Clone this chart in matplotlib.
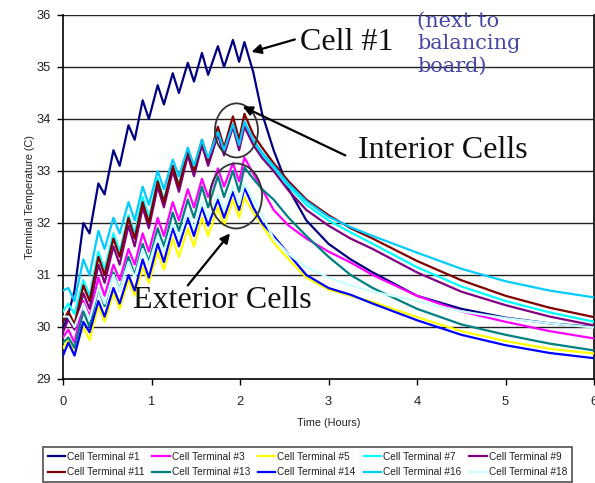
import matplotlib
matplotlib.use("Agg")
import matplotlib.pyplot as plt
from matplotlib.patches import Ellipse
from matplotlib import font_manager

# ---------------- data ----------------
time_h = [0.00, 0.06, 0.13, 0.23, 0.30, 0.40, 0.47, 0.57, 0.64, 0.74, 0.81, 0.90, 0.97,
          1.07, 1.14, 1.24, 1.31, 1.41, 1.48, 1.57, 1.64, 1.75, 1.82, 1.92, 1.99, 2.05,
          2.15, 2.25, 2.38, 2.55, 2.75, 3.00, 3.25, 3.50, 4.00, 4.50, 5.00, 5.50, 6.00]

cell_1 = [29.95, 30.25, 30.7, 32.0, 31.8, 32.76, 32.55, 33.4, 33.1, 33.88, 33.6, 34.36, 34.0,
          34.65, 34.28, 34.88, 34.5, 35.08, 34.72, 35.27, 34.85, 35.4, 35.0, 35.52, 35.1, 35.48,
          34.9, 34.1, 33.4, 32.65, 32.05, 31.6, 31.3, 31.05, 30.6, 30.35, 30.18, 30.07, 30.0]
cell_3 = [29.8, 29.95, 29.7, 30.5, 30.2, 30.95, 30.6, 31.2, 30.9, 31.5, 31.2, 31.8, 31.45,
          32.1, 31.75, 32.4, 32.05, 32.65, 32.3, 32.85, 32.5, 33.05, 32.7, 33.15, 32.8, 33.26,
          32.95, 32.65, 32.25, 31.95, 31.7, 31.45, 31.24, 31.0, 30.6, 30.3, 30.1, 29.92, 29.78]
cell_5 = [29.6, 29.75, 29.5, 30.0, 29.75, 30.4, 30.1, 30.65, 30.35, 30.9, 30.6, 31.15, 30.85,
          31.45, 31.1, 31.7, 31.35, 31.9, 31.55, 32.1, 31.75, 32.3, 31.95, 32.45, 32.1, 32.5,
          32.2, 31.95, 31.62, 31.3, 30.95, 30.72, 30.6, 30.48, 30.19, 29.92, 29.73, 29.58, 29.49]
cell_7 = [30.3, 30.45, 30.25, 30.9, 30.6, 31.45, 31.1, 31.8, 31.45, 32.15, 31.8, 32.5, 32.1,
          32.85, 32.45, 33.1, 32.75, 33.35, 32.95, 33.5, 33.15, 33.7, 33.35, 33.85, 33.45, 33.9,
          33.55, 33.3, 33.05, 32.7, 32.35, 32.05, 31.82, 31.6, 31.15, 30.78, 30.5, 30.28, 30.1]
cell_9 = [29.9, 30.15, 29.95, 30.65, 30.35, 31.2, 30.85, 31.55, 31.2, 31.95, 31.55, 32.3, 31.9,
          32.7, 32.3, 33.0, 32.6, 33.3, 32.9, 33.5, 33.1, 33.7, 33.3, 33.85, 33.4, 33.85,
          33.5, 33.25, 33.0, 32.62, 32.25, 31.95, 31.7, 31.5, 31.05, 30.68, 30.42, 30.2, 30.03]
cell_11 = [30.1, 30.3, 30.05, 30.8, 30.5, 31.35, 31.0, 31.7, 31.35, 32.1, 31.7, 32.4, 32.0,
           32.8, 32.4, 33.1, 32.7, 33.4, 33.0, 33.6, 33.2, 33.85, 33.45, 34.05, 33.6, 34.1,
           33.7, 33.45, 33.15, 32.8, 32.45, 32.15, 31.9, 31.7, 31.27, 30.9, 30.6, 30.37, 30.19]
cell_13 = [29.7, 29.8, 29.6, 30.3, 30.0, 30.75, 30.4, 31.05, 30.7, 31.35, 31.0, 31.6, 31.25,
           31.9, 31.55, 32.2, 31.85, 32.45, 32.1, 32.7, 32.3, 32.9, 32.5, 33.0, 32.6, 33.07,
           32.85, 32.65, 32.45, 32.1, 31.75, 31.35, 31.0, 30.75, 30.35, 30.05, 29.85, 29.68, 29.55]
cell_14 = [29.45, 29.7, 29.45, 30.1, 29.9, 30.5, 30.2, 30.75, 30.45, 31.0, 30.7, 31.3, 30.95,
           31.6, 31.25, 31.9, 31.55, 32.1, 31.75, 32.3, 31.95, 32.45, 32.1, 32.6, 32.25, 32.68,
           32.3, 32.0, 31.75, 31.4, 31.0, 30.75, 30.62, 30.45, 30.13, 29.85, 29.65, 29.5, 29.4]
cell_16 = [30.7, 30.75, 30.5, 31.3, 31.0, 31.85, 31.5, 32.1, 31.8, 32.4, 32.05, 32.7, 32.35,
           33.0, 32.65, 33.22, 32.9, 33.45, 33.1, 33.6, 33.25, 33.75, 33.4, 33.9, 33.5, 33.95,
           33.6, 33.35, 33.1, 32.75, 32.42, 32.12, 31.92, 31.75, 31.43, 31.12, 30.88, 30.7, 30.57]
cell_18 = [30.2, 30.2, 30.0, 30.45, 30.15, 30.75, 30.45, 31.0, 30.7, 31.25, 30.95, 31.5, 31.2,
           31.75, 31.45, 32.0, 31.7, 32.2, 31.9, 32.4, 32.1, 32.55, 32.25, 32.7, 32.35, 32.75,
           32.45, 32.15, 31.7, 31.4, 31.15, 30.95, 30.8, 30.68, 30.5, 30.3, 30.17, 30.07, 29.99]

series_labels = ["Cell Terminal #1", "Cell Terminal #3", "Cell Terminal #5", "Cell Terminal #7",
                 "Cell Terminal #9", "Cell Terminal #11", "Cell Terminal #13", "Cell Terminal #14",
                 "Cell Terminal #16", "Cell Terminal #18"]
series_values = [cell_1, cell_3, cell_5, cell_7, cell_9, cell_11, cell_13, cell_14, cell_16, cell_18]
series_colors = ["#000080", "#FF00FF", "#FFFF00", "#00FFFF", "#800080",
                 "#800000", "#008080", "#0000FF", "#00CCFF", "#CCFFFF"]

y_ticks = [29, 30, 31, 32, 33, 34, 35, 36]
x_ticks = [0, 1, 2, 3, 4, 5, 6]

# ---------------- fonts ----------------
avail = {f.name for f in font_manager.fontManager.ttflist}
sans = "Liberation Sans Narrow" if "Liberation Sans Narrow" in avail else "Liberation Sans"
narrow = sans == "Liberation Sans Narrow"
plt.rcParams["font.family"] = [sans, "DejaVu Sans"]
tick_fs = 10.5 if narrow else 9.3
leg_fs = 8.6 if narrow else 7.3
lab_fs = 9 if narrow else 7.8

# ---------------- figure ----------------
W, H = 595, 483
fig = plt.figure(figsize=(W / 100, H / 100), dpi=100)
ax = fig.add_axes([63 / W, 1 - 379 / H, (594 - 63) / W, (379 - 15) / H])

handles = []
for lab, vals, col in zip(series_labels, series_values, series_colors):
    ln, = ax.plot(time_h, vals, color=col, lw=1.6, label=lab, zorder=3)
    handles.append(ln)

ax.set_xlim(0, 6)
ax.set_ylim(29, 36)
ax.set_xticks(x_ticks)
ax.set_yticks(y_ticks)
ax.tick_params(axis="both", direction="out", length=4, width=1, colors="black",
               labelsize=tick_fs, labelcolor="#222222")
ax.tick_params(axis="x", pad=8)
ax.tick_params(axis="y", pad=5)
for yv in y_ticks[1:]:
    ax.axhline(yv, color="#222222", lw=1.0, zorder=1)
for s in ["left", "bottom", "right"]:
    ax.spines[s].set_color("black")
    ax.spines[s].set_linewidth(1.2)
ax.spines["top"].set_visible(False)

ax.set_ylabel("Terminal Temperature (C)", fontsize=lab_fs, color="#222222", va="center")
ax.yaxis.set_label_coords(-0.062, 0.5)
ax.set_xlabel("Time (Hours)", fontsize=lab_fs, color="#222222", va="center")
ax.xaxis.set_label_coords(0.5, -0.121)

# circles
ax.add_patch(Ellipse((1.96, 33.78), 0.486, 1.04, fill=False, ec="#333333", lw=1.3, zorder=4))
ax.add_patch(Ellipse((1.955, 32.52), 0.588, 1.25, fill=False, ec="#333333", lw=1.3, zorder=4))

# arrows
arr = dict(arrowstyle="-|>", color="black", lw=1.6, mutation_scale=14, shrinkA=0, shrinkB=0)
ax.annotate("", xy=(2.13, 35.29), xytext=(2.62, 35.53), arrowprops=arr, zorder=5)
ax.annotate("", xy=(2.03, 34.24), xytext=(3.19, 33.30), arrowprops=arr, zorder=5)
ax.annotate("", xy=(1.887, 31.80), xytext=(1.41, 30.80), arrowprops=arr, zorder=5)

serif = ["Liberation Serif", "DejaVu Serif"]
ax.text(2.68, 35.47, "Cell #1", family=serif, fontsize=23, color="#111111",
        ha="left", va="center", zorder=6)
ax.text(3.33, 33.40, "Interior Cells", family=serif, fontsize=23, color="#111111",
        ha="left", va="center", zorder=6)
ax.text(0.79, 30.51, "Exterior Cells", family=serif, fontsize=23, color="#111111",
        ha="left", va="center", zorder=6)
ax.text(4.0, 35.45, "(next to\nbalancing\nboard)", family=["DejaVu Serif"], fontsize=15,
        color="#4646A8", ha="left", va="center", linespacing=1.25, zorder=6)

# legend: fill row-wise (matplotlib fills by column)
order = [0, 5, 1, 6, 2, 7, 3, 8, 4, 9]
leg = fig.legend([handles[i] for i in order], [series_labels[i] for i in order],
                 ncol=5, loc="upper left", bbox_to_anchor=(43 / W, 1 - 447 / H),
                 fontsize=leg_fs, frameon=True, fancybox=False, borderpad=0.45,
                 handlelength=1.7, handletextpad=0.2, columnspacing=0.8,
                 labelspacing=0.55, borderaxespad=0)
leg.get_frame().set_edgecolor("#222222")
leg.get_frame().set_linewidth(1.2)
for t in leg.get_texts():
    t.set_color("#222222")

fig.savefig("out.png", dpi=100)
